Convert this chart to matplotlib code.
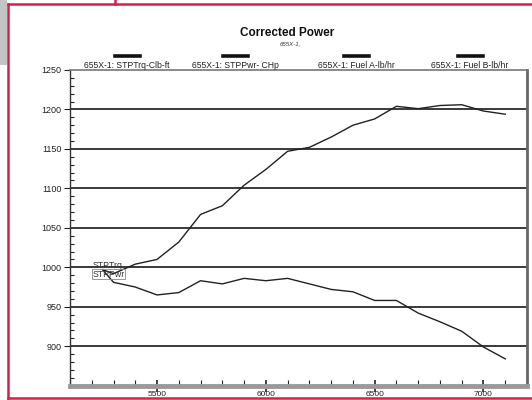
import matplotlib
matplotlib.use("Agg")
import matplotlib.pyplot as plt
from matplotlib.lines import Line2D
from matplotlib.patches import Rectangle
from matplotlib.ticker import MultipleLocator

plt.rcParams["font.family"] = ["Liberation Sans", "DejaVu Sans"]

W, H = 532, 400

# engine speed (rpm)
rpm = [5250, 5300, 5400, 5500, 5600, 5700, 5800, 5900, 6000, 6100,
       6200, 6300, 6400, 6500, 6600, 6700, 6800, 6900, 7000, 7100]
# corrected torque (lb-ft)
torque = [997, 981, 975, 965, 968, 983, 979, 986, 983, 986,
          979, 972, 969, 958, 958, 942, 931, 919, 899, 884]
# corrected power (hp)
power = [997, 992, 1004, 1010, 1032, 1067, 1078, 1104, 1124, 1147,
         1152, 1165, 1180, 1188, 1204, 1201, 1205, 1206, 1198, 1194]

legendLabels = ["655X-1: STPTrq-Clb-ft", "655X-1: STPPwr- CHp",
                "655X-1: Fuel A-lb/hr", "655X-1: Fuel B-lb/hr"]
legendCenters = [127, 235, 356, 470]

yTicks = [900, 950, 1000, 1050, 1100, 1150, 1200, 1250]
xTicks = [5500, 6000, 6500, 7000]


def fx(px):
    return px / W


def fy(py):
    return 1 - py / H


figure = plt.figure(figsize=(W / 100, H / 100), dpi=100)
figure.patch.set_facecolor("white")

axes = figure.add_axes([fx(70), fy(385.7), (527 - 70) / W, (385.7 - 70) / H])

axes.plot(rpm, power, color="#222222", linewidth=1.0, zorder=3)
axes.plot(rpm, torque, color="#222222", linewidth=1.0, zorder=3)

axes.set_xlim(5100, 7200)
axes.set_ylim(850, 1250)

axes.set_yticks(yTicks)
axes.set_xticks(xTicks)
axes.yaxis.set_minor_locator(MultipleLocator(10))
axes.xaxis.set_minor_locator(MultipleLocator(100))

for v in yTicks[:-1]:
    axes.axhline(v, color="#3a3a3a", linewidth=1.4, zorder=2)

axes.tick_params(axis="y", which="major", direction="out", length=4, width=0.8,
                 labelsize=6.5, pad=2, colors="#222222")
axes.tick_params(axis="y", which="minor", direction="in", length=3, width=0.8,
                 colors="#222222")
axes.tick_params(axis="x", which="major", direction="inout", length=8, width=1.2,
                 labelsize=6.0, pad=0, colors="#222222")
axes.tick_params(axis="x", which="minor", direction="in", length=4, width=0.8,
                 colors="#222222")

axes.spines["left"].set_color("#333333")
axes.spines["left"].set_linewidth(1.0)
axes.spines["top"].set_color("#777777")
axes.spines["top"].set_linewidth(1.2)
axes.spines["right"].set_color("#666666")
axes.spines["right"].set_linewidth(2.0)
axes.spines["bottom"].set_color("#9a9a9a")
axes.spines["bottom"].set_linewidth(3.5)

# curve labels near the start
axes.text(5202, 1002, "STPTrq", fontsize=6.3, color="#333333", va="center", ha="left")
axes.text(5202, 991, "STPPwr", fontsize=6.3, color="#333333", va="center", ha="left",
          bbox=dict(boxstyle="square,pad=0.05", facecolor="none", edgecolor="#888888",
                    linewidth=0.6))

# header
figure.text(fx(287), fy(33), "Corrected Power", fontsize=8.5, fontweight="bold",
            ha="center", va="center", color="#111111")
figure.text(fx(290), fy(44), "655X-1,", fontsize=4.4, fontstyle="italic",
            ha="center", va="center", color="#333333")

for label, cx in zip(legendLabels, legendCenters):
    figure.text(fx(cx), fy(65), label, fontsize=6.2, ha="center", va="center",
                color="#222222")
    figure.add_artist(Line2D([fx(cx - 12), fx(cx + 13)], [fy(56), fy(56)],
                             transform=figure.transFigure, color="#111111",
                             linewidth=2.6))

# red frame of the scanned page
red = "#d61f4b"
for xs, ys in [([8, 532], [4, 4]), ([8, 8], [4, 400]), ([115, 115], [0, 4]),
               ([8, 532], [398, 398])]:
    figure.add_artist(Line2D([fx(x) for x in xs], [fy(y) for y in ys],
                             transform=figure.transFigure, color=red, linewidth=1.8))
figure.add_artist(Rectangle((0, fy(65)), fx(7), 1 - fy(65), transform=figure.transFigure,
                            facecolor="#c4c4c4", edgecolor="none", zorder=0))

figure.savefig("out.png", dpi=100)
